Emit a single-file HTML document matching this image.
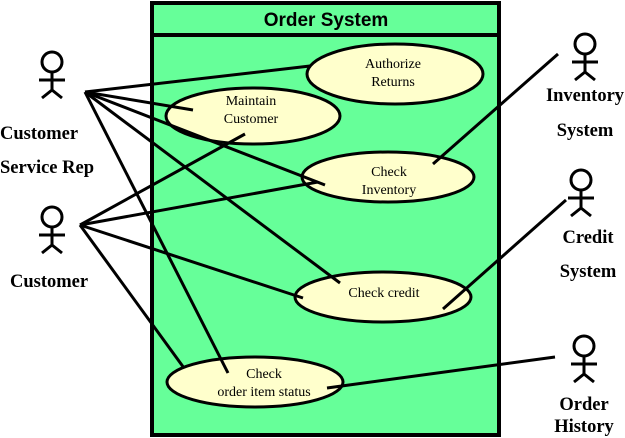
<!DOCTYPE html>
<html><head><meta charset="utf-8"><style>
html,body{margin:0;padding:0;background:#fff;}
svg{display:block;}
.a{font-family:"Liberation Serif",serif;font-weight:bold;font-size:18.5px;fill:#000;}
.u{font-family:"Liberation Serif",serif;font-size:14px;fill:#000;}
</style></head><body>
<svg width="625" height="438" viewBox="0 0 625 438" xmlns="http://www.w3.org/2000/svg">
<rect x="152" y="3" width="347" height="432" fill="#66ff99" stroke="#000" stroke-width="4"/>
<line x1="152" y1="35" x2="499" y2="35" stroke="#000" stroke-width="4"/>
<text x="326" y="26" text-anchor="middle" style="font-family:'Liberation Sans',sans-serif;font-weight:bold;font-size:19px">Order System</text>
<g fill="#ffffcc" stroke="#000" stroke-width="3">
<ellipse cx="395" cy="74" rx="88" ry="30"/>
<ellipse cx="253" cy="116" rx="87" ry="28"/>
<ellipse cx="388" cy="177" rx="86" ry="25"/>
<ellipse cx="383" cy="297" rx="88" ry="25"/>
<ellipse cx="255" cy="382" rx="88" ry="25"/>
</g>
<g stroke="#000" stroke-width="3" fill="none">
<line x1="85" y1="92" x2="310" y2="66"/>
<line x1="85" y1="92" x2="193" y2="110"/>
<line x1="85" y1="92" x2="325" y2="185"/>
<line x1="85" y1="92" x2="340" y2="283"/>
<line x1="85" y1="92" x2="228" y2="373"/>
<line x1="80" y1="225" x2="245" y2="134"/>
<line x1="80" y1="225" x2="318" y2="182"/>
<line x1="80" y1="225" x2="303" y2="298"/>
<line x1="80" y1="225" x2="184" y2="368"/>
<line x1="558" y1="54" x2="433" y2="164"/>
<line x1="566" y1="200" x2="443" y2="309"/>
<line x1="555" y1="357" x2="327" y2="388"/>
</g>
<g fill="#fff" stroke="#000" stroke-width="3">
<g transform="translate(52,62)"><circle r="10"/><path d="M0 10V28M-13 18H13M-10 36L0 28L10 36" fill="none"/></g>
<g transform="translate(52,217)"><circle r="10"/><path d="M0 10V28M-13 18H13M-10 36L0 28L10 36" fill="none"/></g>
<g transform="translate(585,44)"><circle r="10"/><path d="M0 10V28M-13 18H13M-10 36L0 28L10 36" fill="none"/></g>
<g transform="translate(581,180)"><circle r="10"/><path d="M0 10V28M-13 18H13M-10 36L0 28L10 36" fill="none"/></g>
<g transform="translate(584,346)"><circle r="10"/><path d="M0 10V28M-13 18H13M-10 36L0 28L10 36" fill="none"/></g>
</g>
<text class="a" x="0" y="139">Customer</text>
<text class="a" x="0" y="173">Service Rep</text>
<text class="a" x="10" y="287">Customer</text>
<text class="a" x="585" y="101" text-anchor="middle">Inventory</text>
<text class="a" x="585" y="136" text-anchor="middle">System</text>
<text class="a" x="588" y="243" text-anchor="middle">Credit</text>
<text class="a" x="588" y="277" text-anchor="middle">System</text>
<text class="a" x="584" y="410" text-anchor="middle">Order</text>
<text class="a" x="584" y="432" text-anchor="middle">History</text>
<g class="u" text-anchor="middle">
<text x="393" y="68">Authorize</text><text x="393" y="86">Returns</text>
<text x="251" y="105">Maintain</text><text x="251" y="123">Customer</text>
<text x="389" y="176">Check</text><text x="389" y="194">Inventory</text>
<text x="384" y="297">Check credit</text>
<text x="264" y="378">Check</text><text x="264" y="396">order item status</text>
</g>
</svg>
</body></html>
